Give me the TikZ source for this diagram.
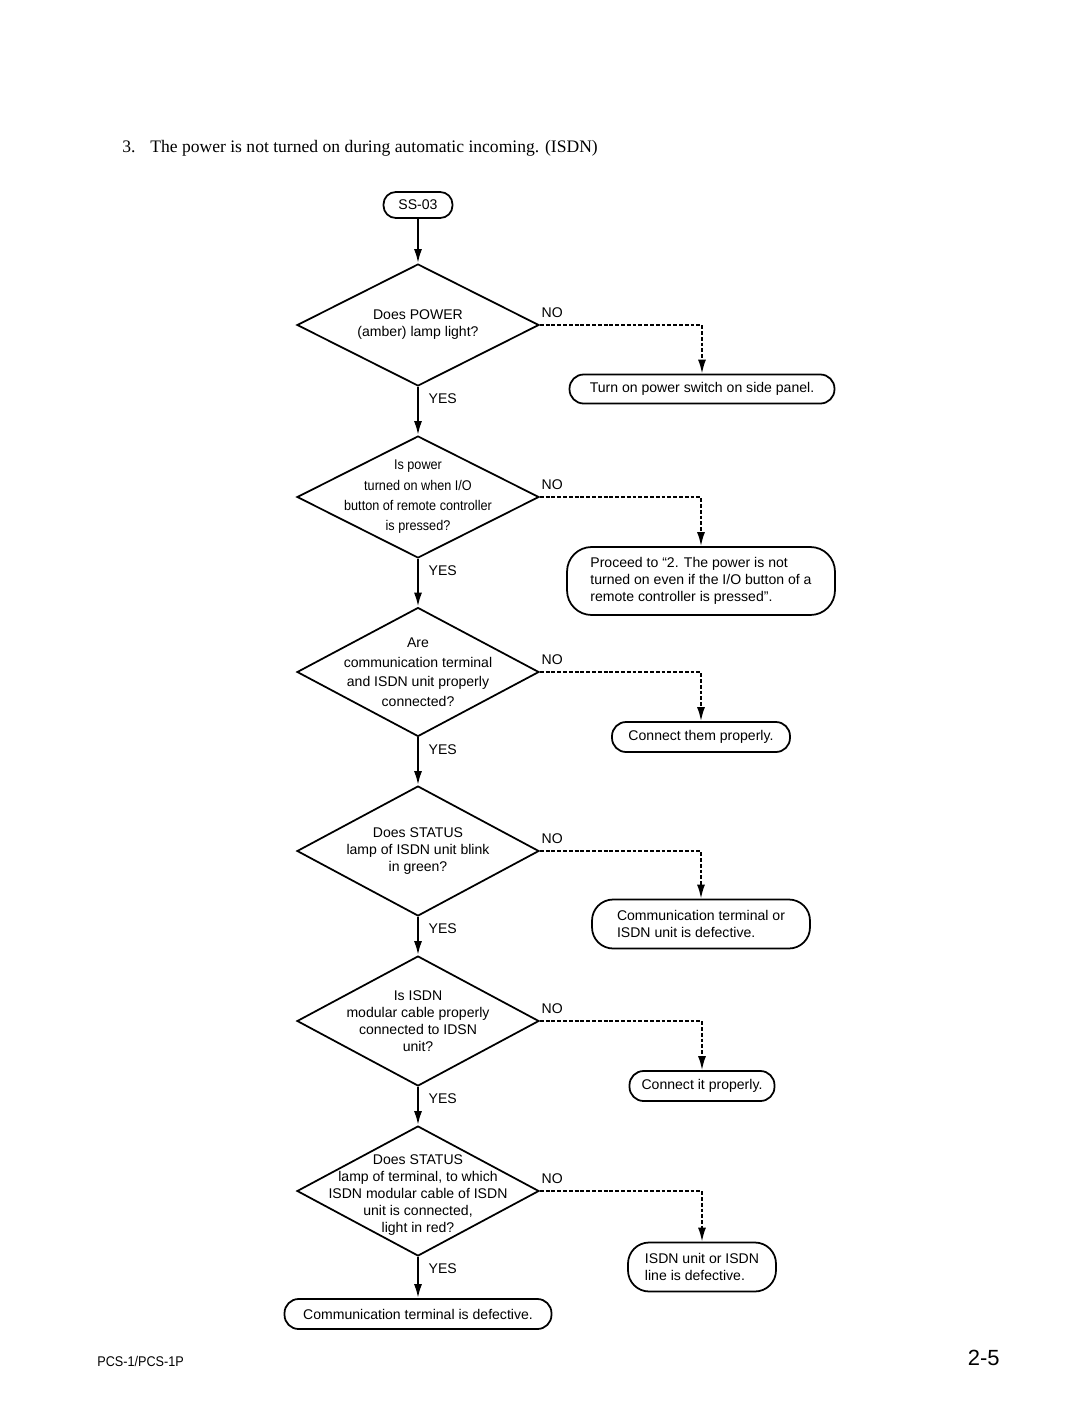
\documentclass[tikz,border=0pt]{standalone}
\usepackage{fontspec}
\setmainfont{Liberation Serif}
\setsansfont{Liberation Sans}
\newfontfamily\narrowsf[FakeStretch=0.9]{Liberation Sans}
\usetikzlibrary{shapes.geometric, arrows.meta, positioning}
\tikzset{>={Latex[length=8pt, width=4.6pt]},
  box/.style={draw, line width=1pt, rounded corners=8pt, align=left, inner sep=0pt,
    font=\sffamily\fontsize{8}{9.7}\selectfont},
  decision/.style={draw, diamond, line width=1pt, minimum width=4.84cm, inner sep=0pt},
  dtext/.style={align=center, inner sep=0pt, font=\sffamily\fontsize{8}{9.7}\selectfont},
  yeslbl/.style={pos=0, anchor=north west, inner xsep=5.5pt, inner ysep=3.5pt,
    font=\sffamily\fontsize{8}{9.7}\selectfont},
  nolbl/.style={pos=0, anchor=south west, inner xsep=0.5pt, inner ysep=3.5pt,
    font=\sffamily\fontsize{8}{9.7}\selectfont},
  yes/.style={->, line width=1.2pt},
  no/.style={->, line width=1pt, dash pattern=on 2.2pt off 1.1pt}}

\begin{document}
\begin{tikzpicture}[x=0.02cm, y=-0.02cm]
    \useasboundingbox (0,0) rectangle (1080,1407);
    \node[anchor=base west, inner sep=0pt, font=\fontsize{10}{12}\selectfont] (num) at (122,152) {3.};
    \node[anchor=base west, inner sep=0pt, font=\fontsize{10}{12}\selectfont] (title) at (150,152)
      {The power is not turned on during automatic incoming. (ISDN)};

    \node[box, rounded corners=7pt, minimum width=1.38cm, minimum height=0.52cm] (ss) at (418,205) {SS-03};

    \node[decision, minimum height=2.44cm] (d1) at (418,325) {};
    \node[dtext] (t1) at (d1) {Does POWER\\(amber) lamp light?};
    \node[box, minimum width=5.3cm, minimum height=0.58cm] (r1) at (702,389) {Turn on power switch on side panel.};

    \node[decision, minimum height=2.44cm] (d2) at (418,497) {};
    \node[dtext, font=\narrowsf\fontsize{8}{11.6}\selectfont] (t2) at (d2)
      {Is power\\turned on when I/O\\button of remote controller\\is pressed?};
    \node[box, rounded corners=14pt, minimum width=5.36cm, minimum height=1.36cm] (r2) at (701,581)
      {Proceed to “2. The power is not\\turned on even if the I/O button of a\\remote controller is pressed”.};

    \node[decision, minimum height=2.58cm] (d3) at (418,672) {};
    \node[dtext, font=\sffamily\fontsize{8}{11.1}\selectfont] (t3) at (d3)
      {Are\\communication terminal\\and ISDN unit properly\\connected?};
    \node[box, minimum width=3.56cm, minimum height=0.6cm] (r3) at (701,737) {Connect them properly.};

    \node[decision, minimum height=2.6cm] (d4) at (418,851) {};
    \node[dtext] (t4) at (d4) {Does STATUS\\lamp of ISDN unit blink\\in green?};
    \node[box, rounded corners=12pt, minimum width=4.36cm, minimum height=0.98cm] (r4) at (701,924)
      {Communication terminal or\\ISDN unit is defective.};

    \node[decision, minimum height=2.6cm] (d5) at (418,1021) {};
    \node[dtext] (t5) at (d5) {Is ISDN\\modular cable properly\\connected to IDSN\\unit?};
    \node[box, minimum width=2.9cm, minimum height=0.6cm] (r5) at (702,1086) {Connect it properly.};

    \node[decision, minimum height=2.6cm] (d6) at (418,1191) {};
    \node[dtext] (t6) at (418,1195)
      {Does STATUS\\lamp of terminal, to which\\ISDN modular cable of ISDN\\unit is connected,\\light in red?};
    \node[box, rounded corners=12pt, minimum width=2.96cm, minimum height=0.98cm] (r6) at (702,1267)
      {ISDN unit or ISDN\\line is defective.};
    \node[box, minimum width=5.34cm, minimum height=0.6cm] (r7) at (418,1314) {Communication terminal is defective.};

    \draw[yes] (ss) -- (d1);
    \draw[yes] (d1) -- node[yeslbl] (y1) {YES} (d2);
    \draw[yes] (d2) -- node[yeslbl] (y2) {YES} (d3);
    \draw[yes] (d3) -- node[yeslbl] (y3) {YES} (d4);
    \draw[yes] (d4) -- node[yeslbl] (y4) {YES} (d5);
    \draw[yes] (d5) -- node[yeslbl] (y5) {YES} (d6);
    \draw[yes] (d6) -- node[yeslbl] (y6) {YES} (r7);
    \draw[no] (d1.east) -| node[nolbl] (n1) {NO} (r1.north);
    \draw[no] (d2.east) -| node[nolbl] (n2) {NO} (r2.north);
    \draw[no] (d3.east) -| node[nolbl] (n3) {NO} (r3.north);
    \draw[no] (d4.east) -| node[nolbl] (n4) {NO} (r4.north);
    \draw[no] (d5.east) -| node[nolbl] (n5) {NO} (r5.north);
    \draw[no] (d6.east) -| node[nolbl] (n6) {NO} (r6.north);

    \node[anchor=base west, inner sep=0pt, font=\narrowsf\fontsize{8}{9.6}\selectfont] (foot) at (97,1366) {PCS-1/PCS-1P};
    \node[anchor=base east, inner sep=0pt, font=\sffamily\fontsize{12.5}{15}\selectfont] (page) at (1000,1365) {2-5};
\end{tikzpicture}
\end{document}
